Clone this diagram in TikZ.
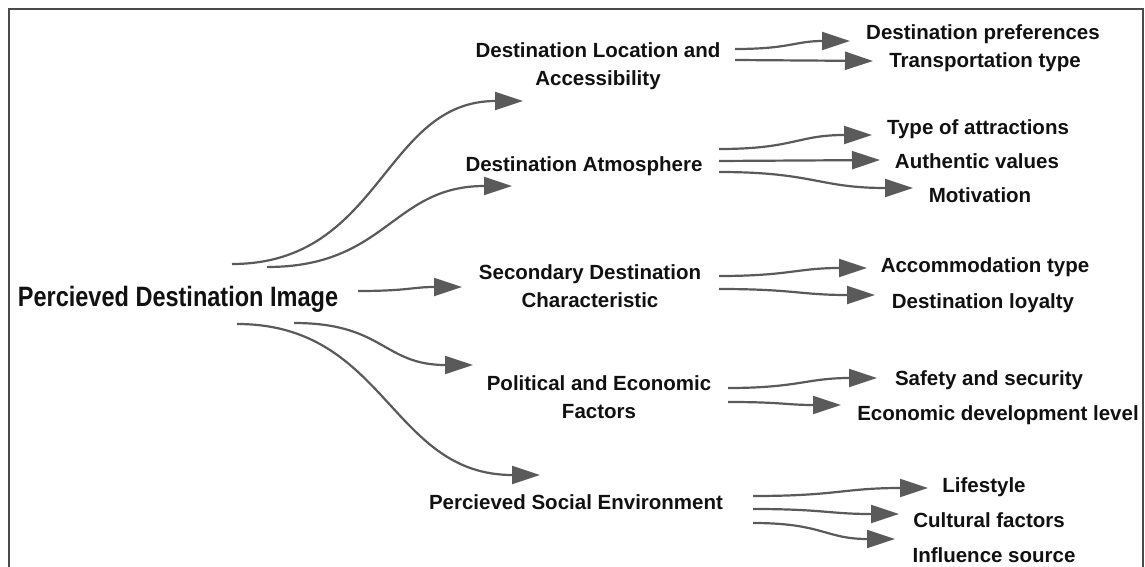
\documentclass[tikz,border=0pt]{standalone}
\usepackage{fontspec}
\setmainfont{Liberation Sans}
\newfontfamily\bigfont{Liberation Sans}[FakeStretch=0.84]
\usetikzlibrary{arrows.meta}
\definecolor{arrowgray}{HTML}{5A5A5A}
\definecolor{framegray}{HTML}{4A4A4A}
\definecolor{txt}{HTML}{111111}
\begin{document}
\begin{tikzpicture}[x=1pt,y=-1pt,
  lab/.style={font=\bfseries\fontsize{20.5}{28}\selectfont, text=txt, inner sep=0pt, align=center},
  mainlab/.style={font=\bigfont\bfseries\fontsize{28}{30}\selectfont, text=txt, inner sep=0pt},
  conn/.style={draw=arrowgray, line width=2.2pt, -{Triangle[length=28pt,width=18pt]}},
]
\useasboundingbox (0,0) rectangle (1145,567);
\clip (0,0) rectangle (1145,567);
\fill[white] (0,0) rectangle (1145,567);
\draw[framegray, line width=1.5pt] (9,600) -- (9,9) -- (1143,9) -- (1143,600);

% main
\node[mainlab, anchor=base] (pdi) at (178,306) {Percieved Destination Image};

% middle column
\node[lab] (acc) at (598,66) {Destination Location and\\Accessibility};
\node[lab, anchor=base] (atm) at (584,171) {Destination Atmosphere};
\node[lab] (sec) at (590,286) {Secondary Destination\\Characteristic};
\node[lab] (pol) at (599,397) {Political and Economic\\Factors};
\node[lab, anchor=base] (soc) at (576,509) {Percieved Social Environment};

% right column
\node[lab, anchor=base] (pref) at (983,40) {Destination preferences};
\node[lab, anchor=base] (trans) at (985,68) {Transportation type};
\node[lab, anchor=base] (attr) at (978,135) {Type of attractions};
\node[lab, anchor=base] (auth) at (977,168) {Authentic values};
\node[lab, anchor=base] (moti) at (980,202) {Motivation};
\node[lab, anchor=base] (accom) at (985,272) {Accommodation type};
\node[lab, anchor=base] (loyal) at (983,308) {Destination loyalty};
\node[lab, anchor=base] (safe) at (989,385) {Safety and security};
\node[lab, anchor=base] (econ) at (998,420) {Economic development level};
\node[lab, anchor=base] (life) at (984,492) {Lifestyle};
\node[lab, anchor=base] (cult) at (989,527) {Cultural factors};
\node[lab, anchor=base] (infl) at (994,562) {Influence source};

% connector ends
\coordinate (m1) at (232,264);  \coordinate (a1) at (523,101);
\coordinate (m2) at (267,267);  \coordinate (a2) at (512,186);
\coordinate (m3) at (358,291);  \coordinate (a3) at (462,287);
\coordinate (m4) at (294,323);  \coordinate (a4) at (473,365);
\coordinate (m5) at (237,324);  \coordinate (a5) at (540,475);

\coordinate (acc1) at (735,49); \coordinate (pref1) at (850,41);
\coordinate (acc2) at (735,60); \coordinate (trans1) at (873,61);
\coordinate (atm1) at (719,149); \coordinate (attr1) at (872,135);
\coordinate (atm2) at (719,161); \coordinate (auth1) at (880,160);
\coordinate (atm3) at (719,172); \coordinate (moti1) at (913,188);
\coordinate (sec1) at (719,276); \coordinate (accom1) at (867,268);
\coordinate (sec2) at (719,289); \coordinate (loyal1) at (875,295);
\coordinate (pol1) at (728,388); \coordinate (safe1) at (877,378);
\coordinate (pol2) at (728,402); \coordinate (econ1) at (841,405);
\coordinate (soc1) at (753,496); \coordinate (life1) at (928,488);
\coordinate (soc2) at (753,509); \coordinate (cult1) at (899,514);
\coordinate (soc3) at (753,523); \coordinate (infl1) at (895,539);

% main -> middle
\draw[conn] (m1) .. controls +(150,0) and +(-140,0) .. (a1);
\draw[conn] (m2) .. controls +(120,0) and +(-120,0) .. (a2);
\draw[conn] (m3) .. controls +(50,0) and +(-50,0) .. (a3);
\draw[conn] (m4) .. controls +(90,0) and +(-90,0) .. (a4);
\draw[conn] (m5) .. controls +(150,0) and +(-150,0) .. (a5);

% middle -> right
\draw[conn] (acc1) .. controls +(55,0) and +(-55,0) .. (pref1);
\draw[conn] (acc2) -- (trans1);
\draw[conn] (atm1) .. controls +(75,0) and +(-75,0) .. (attr1);
\draw[conn] (atm2) -- (auth1);
\draw[conn] (atm3) .. controls +(95,0) and +(-95,0) .. (moti1);
\draw[conn] (sec1) .. controls +(70,0) and +(-70,0) .. (accom1);
\draw[conn] (sec2) .. controls +(75,0) and +(-75,0) .. (loyal1);
\draw[conn] (pol1) .. controls +(70,0) and +(-70,0) .. (safe1);
\draw[conn] (pol2) .. controls +(55,0) and +(-55,0) .. (econ1);
\draw[conn] (soc1) .. controls +(85,0) and +(-85,0) .. (life1);
\draw[conn] (soc2) .. controls +(70,0) and +(-70,0) .. (cult1);
\draw[conn] (soc3) .. controls +(70,0) and +(-70,0) .. (infl1);
\end{tikzpicture}
\end{document}
